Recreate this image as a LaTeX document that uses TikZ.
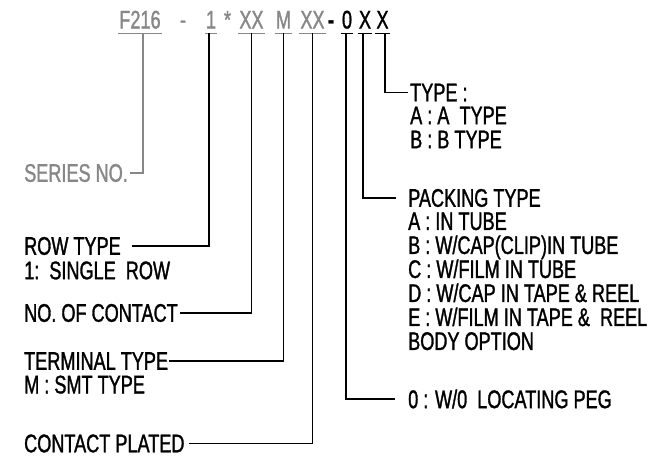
\documentclass[tikz,border=0pt]{standalone}
\usepackage{fontspec}
\setmainfont{Liberation Sans}[FakeStretch=0.71, FakeBold=1.2]
\usepackage{xcolor}
\usetikzlibrary{positioning}
\definecolor{codegrey}{RGB}{135,135,135}

\begin{document}
\begin{tikzpicture}[
    x=1pt, y=-1pt,
    every node/.style={font=\fontsize{25.5}{24}\selectfont},
    code/.style={anchor=base, inner xsep=1pt, inner ysep=4.5pt, text=codegrey},
    codeblk/.style={code, text=black},
    title/.style={anchor=west, inner sep=0pt},
    detail/.style={inner sep=0pt, align=left, anchor=north west},
    line/.style={draw, line width=1.2pt},
    uline/.style={draw, line width=1pt}
]
    \useasboundingbox (0,0) rectangle (666,458);

    % part number
    \node[code]    (f216)    at (140,28.5)   {F216};
    \node[code]    (dasha)   at (183,28.5)   {-};
    \node[code]    (row)     at (211,28.5)   {1};
    \node[code]    (star)    at (227.5,28.5) {*};
    \node[code]    (contact) at (251.5,28.5) {XX};
    \node[code]    (term)    at (283.5,28.5) {M};
    \node[code]    (plate)   at (312.5,28.5) {XX};
    \node[codeblk] (dashb)   at (331,28.5)   {\textbf{-}};
    \node[codeblk] (peg)     at (347,28.5)   {0};
    \node[codeblk] (pack)    at (365,28.5)   {X};
    \node[codeblk] (kind)    at (382.5,28.5) {X};

    \foreach \c in {f216,row,contact,term,plate}
        \draw[uline, codegrey] (\c.south west) -- (\c.south east);
    \foreach \c in {peg,pack,kind}
        \draw[uline] (\c.south west) -- (\c.south east);

    % left side
    \node[title, text=codegrey] (series)   at (24,173) {SERIES NO.};
    \node[title]                (rowtype)  at (24,246) {ROW TYPE};
    \node[detail, below=6pt of rowtype.south west, anchor=north west] (rowopt)
        {1:~~SINGLE~~ROW};
    \node[title]                (contacts) at (24,313) {NO. OF CONTACT};
    \node[title]                (terminal) at (24,361) {TERMINAL TYPE};
    \node[detail, below=5.4pt of terminal.south west, anchor=north west] (termopt)
        {M : SMT TYPE};
    \node[title]                (plated)   at (24,443.5) {CONTACT PLATED};

    % right side
    \node[title] (typeh) at (410,92.5) {TYPE :};
    \node[detail, below=5pt of typeh.south west, anchor=north west] (typeopt)
        {A : A~~TYPE\\B : B TYPE};
    \node[title] (packh) at (408,198) {PACKING TYPE};
    \node[detail, below=5pt of packh.south west, anchor=north west] (packopt)
        {A : IN TUBE\\B : W/CAP(CLIP)IN TUBE\\C : W/FILM IN TUBE\\
         D : W/CAP IN TAPE \& REEL\\E : W/FILM IN TAPE \&~~REEL\\BODY OPTION};
    \node[title] (pegh) at (408,399) {0 : W/0~~LOCATING PEG};

    % leaders
    \draw[line, codegrey] ([xshift=3pt]f216.south) |- ([xshift=2pt]series.east);
    \draw[line] ([xshift=-2pt]row.south) |- ([xshift=11pt]rowtype.east);
    \draw[line] (contact.south) |- ([xshift=2pt]contacts.east);
    \draw[line] (term.south)    |- ([xshift=1pt]terminal.east);
    \draw[line] (plate.south)   |- ([xshift=4pt]plated.east);
    \draw[line] ([xshift=2.5pt]kind.south) |- ([xshift=-2pt]typeh.west);
    \draw[line] ([xshift=-2pt]pack.south)  |- ([xshift=-12pt]packh.west);
    \draw[line] ([xshift=-1pt]peg.south)   |- ([xshift=-13pt]pegh.west);

\end{tikzpicture}
\end{document}
